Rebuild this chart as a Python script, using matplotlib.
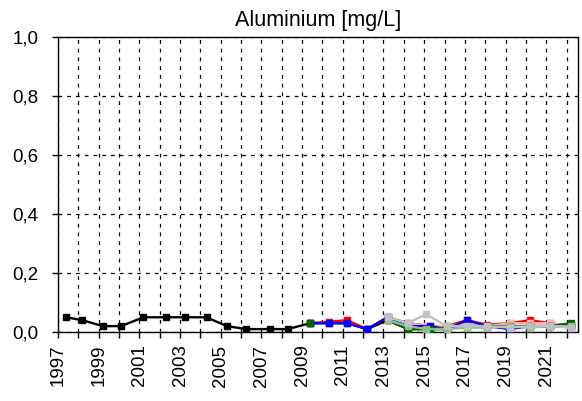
import matplotlib
matplotlib.use("Agg")
import matplotlib.pyplot as plt
from matplotlib.ticker import FuncFormatter

nan = float("nan")

# fechas de muestreo (año decimal) y valores de aluminio [mg/L]
anos_negro = [1997.4, 1998.2, 1999.2, 2000.1, 2001.2, 2002.3, 2003.26, 2004.3, 2005.3, 2006.26,
              2007.4, 2008.3, 2009.4, 2010.3, 2011.2, 2012.2, 2013.2, 2014.2, 2015.3, 2016.1,
              2017.1, 2018.1, 2019.2, 2020.2, 2021.2, 2022.2]
valores_negro = [0.05, 0.04, 0.02, 0.02, 0.05, 0.05, 0.05, 0.05, 0.02, 0.01,
                 0.01, 0.01, 0.03, 0.03, 0.03, 0.01, 0.04, 0.01, 0.01, 0.01,
                 0.02, 0.02, 0.02, 0.02, 0.02, 0.02]

anos_nuevos = [2009.4, 2010.3, 2011.2, 2012.2, 2013.2, 2014.2, 2015.3, 2016.1, 2017.1,
               2018.1, 2019.2, 2020.2, 2021.2, 2022.2]
valores_rojo = [0.03, 0.035, 0.04, 0.01, 0.05, 0.03, 0.02, 0.02, 0.04, 0.025, 0.03, 0.04, 0.03, 0.02]
valores_azul = [0.03, 0.03, 0.03, 0.01, 0.05, 0.02, 0.02, 0.01, 0.04, 0.02, 0.01, 0.02, 0.02, 0.02]
valores_verde = [0.03, nan, nan, nan, 0.04, 0.01, 0.01, 0.015, 0.02, 0.02, 0.02, 0.02, 0.02, 0.03]

anos_gris = [2013.2, 2014.2, 2015.1, 2016.1, 2017.1, 2018.1, 2019.2, 2020.2, 2021.2, 2022.2]
valores_gris = [0.05, 0.03, 0.06, 0.02, 0.02, 0.02, 0.015, 0.02, 0.02, 0.015]
valores_rosa = [0.04, 0.03, 0.02, 0.02, 0.03, 0.02, 0.03, 0.03, 0.03, 0.02]
valores_verde_claro = [0.04, 0.02, 0.01, 0.01, 0.015, 0.015, 0.02, 0.015, 0.02, 0.02]

ticks_anos = list(range(1997, 2023))
etiquetas_anos = [str(a) if (a - 1997) % 2 == 0 else "" for a in ticks_anos]
ticks_y = [0.0, 0.2, 0.4, 0.6, 0.8, 1.0]

plt.rcParams["font.family"] = ["Liberation Sans", "DejaVu Sans"]
plt.rcParams["font.size"] = 13.5

fig = plt.figure(figsize=(5.82, 4.01), dpi=100)
ax = fig.add_axes([0.0997, 0.172, 0.893, 0.736])

# series (orden de dibujo: las de arriba tapan a las de abajo)
ax.plot(anos_negro, valores_negro, color="black", marker="s", markersize=5, lw=1.7, zorder=3)
ax.plot(anos_nuevos, valores_rojo, color="red", marker="s", markersize=5, lw=1.7, zorder=4)
ax.plot(anos_gris, valores_rosa, color="#ffb0b0", marker="s", markersize=5, lw=1.7, zorder=4)
ax.plot(anos_nuevos, valores_azul, color="blue", marker="s", markersize=5, lw=1.7, zorder=5)
ax.plot(anos_nuevos, valores_verde, color="#006400", marker="s", markersize=5, lw=1.7, zorder=6)
ax.plot(anos_gris, valores_verde_claro, color="#8fbc8f", marker="s", markersize=5, lw=1.7, zorder=6)
ax.plot(anos_gris, valores_gris, color="#c0c0c0", marker="s", markersize=5, lw=1.7, zorder=7)

ax.set_xlim(1997, 2022.55)
ax.set_ylim(0, 1.0)
ax.set_xticks(ticks_anos)
ax.set_xticklabels(etiquetas_anos, rotation=90)
ax.set_yticks(ticks_y)
ax.yaxis.set_major_formatter(FuncFormatter(lambda v, p: f"{v:.1f}".replace(".", ",")))
ax.tick_params(direction="out", length=4, width=1, colors="black", pad=5)
ax.tick_params(axis="y", pad=10)

ax.grid(True, color="black", linestyle=(0, (3, 4)), lw=0.9)
ax.set_axisbelow(True)
for s in ax.spines.values():
    s.set_linewidth(1)

ax.set_title("Aluminium [mg/L]", fontsize=15.5, pad=8)

plt.savefig("out.png", dpi=100)
